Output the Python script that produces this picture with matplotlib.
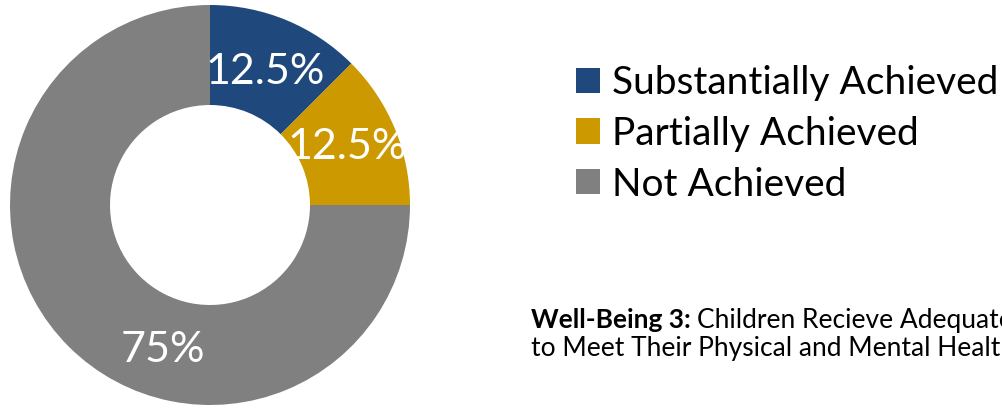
import matplotlib
matplotlib.use("Agg")
import matplotlib.pyplot as plt

# data
categories = ["Substantially Achieved", "Partially Achieved", "Not Achieved"]
shares = [12.5, 12.5, 75]
pct_labels = ["12.5%", "12.5%", "75%"]
colors = ["#1F497D", "#CC9900", "#808080"]

W, H = 1003, 408
fig = plt.figure(figsize=(W / 100, H / 100), dpi=100)
fig.patch.set_facecolor("white")
plt.rcParams["font.family"] = ["Lato", "DejaVu Sans"]

# donut, about 400 px across, centre at (210, 205) px
cx, cy, r = 210, 205, 200
ax = fig.add_axes([(cx - r) / W, (H - cy - r) / H, 2 * r / W, 2 * r / H])
wedges, _ = ax.pie(shares, colors=colors, startangle=90, counterclock=False,
                   radius=1, wedgeprops=dict(width=0.5, linewidth=0))
ax.set_xlim(-1, 1)
ax.set_ylim(-1, 1)
ax.set_aspect("equal")
ax.axis("off")

# percent labels (Excel style placement)
label_pos = [(0.275, 0.665), (0.685, 0.29), (-0.235, -0.725)]
for (lx, ly), txt in zip(label_pos, pct_labels):
    ax.text(lx, ly, txt, ha="center", va="center", color="white", fontsize=31)

# legend
fig.legend(wedges, categories, loc="upper left",
           bbox_to_anchor=(576 / W, 1 - 65 / H), frameon=False,
           fontsize=28, handlelength=0.62, handleheight=0.62,
           handletextpad=0.3, labelspacing=0.38, borderpad=0,
           borderaxespad=0)

# caption (cut off at the right edge, as in the source image)
fs = 19
bx, by = 531 / W, 1 - 328 / H
bold = fig.text(bx, by, "Well-Being 3:", fontsize=fs, fontweight="bold",
                ha="left", va="baseline")
fig.canvas.draw()
ext = bold.get_window_extent()
fig.text((ext.x1 + 6) / W, by, "Children Recieve Adequate Services",
         fontsize=fs, ha="left", va="baseline")
fig.text(bx, by - 28 / H, "to Meet Their Physical and Mental Health Needs",
         fontsize=fs, ha="left", va="baseline")

fig.savefig("out.png", dpi=100, facecolor="white")
